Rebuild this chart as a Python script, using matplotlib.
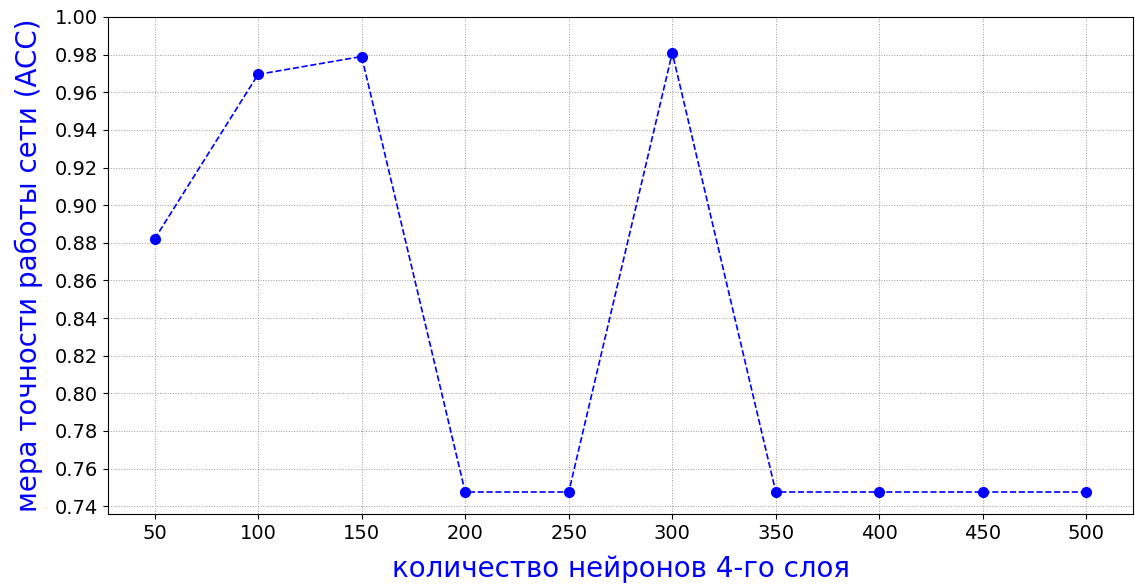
import matplotlib
matplotlib.use("Agg")
import matplotlib.pyplot as plt

# neurons in 4th layer vs accuracy
neurons = [50, 100, 150, 200, 250, 300, 350, 400, 450, 500]
acc = [0.882, 0.9695, 0.979, 0.7475, 0.7475, 0.981, 0.7475, 0.7475, 0.7475, 0.7475]

fig = plt.figure(figsize=(11.35, 5.88), dpi=100)
ax = fig.add_axes([108 / 1135, 1 - 514 / 588, (1133 - 108) / 1135, (514 - 17) / 588])

ax.plot(neurons, acc, "o--", color="blue", linewidth=1.2, markersize=7)

ax.set_xticks(neurons)
ax.set_ylim(top=1.0)
ax.set_yticks([0.74 + 0.02 * i for i in range(14)])
ax.tick_params(labelsize=14)
ax.grid(True, linestyle=":", color="0.6", linewidth=0.7)

ax.set_xlabel("количество нейронов 4-го слоя", color="blue", fontsize=20, labelpad=9)
ax.set_ylabel("мера точности работы сети (ACC)", color="blue", fontsize=20, labelpad=9)

fig.savefig("out.png", dpi=100)
